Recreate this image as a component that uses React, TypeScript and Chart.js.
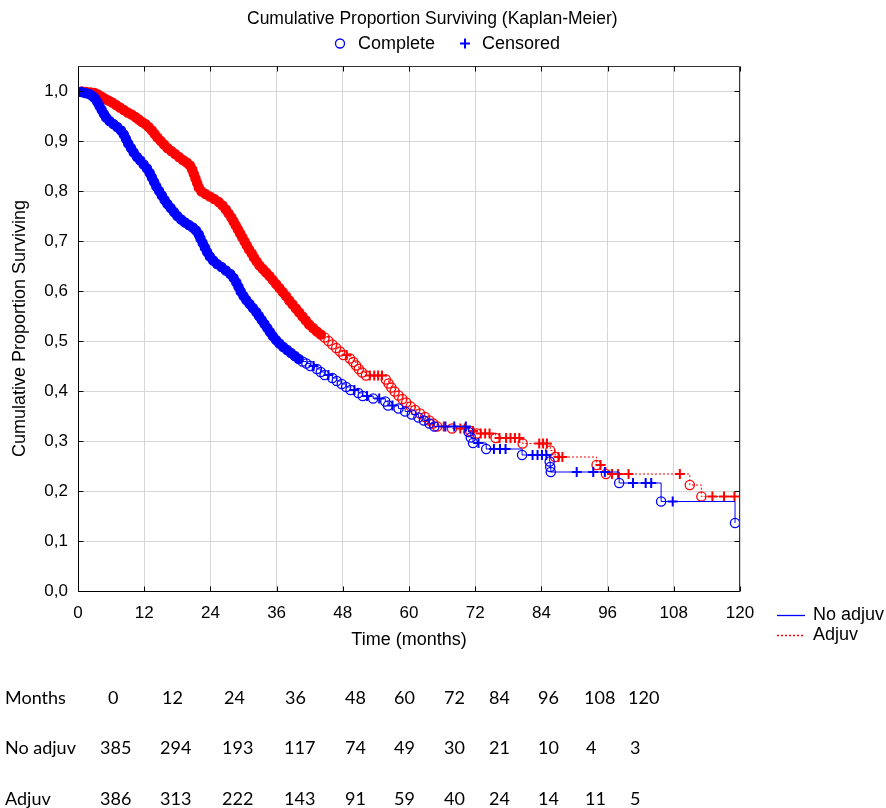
import React, { useEffect, useRef } from 'react';
import { Chart, registerables } from 'chart.js';
Chart.register(...registerables);

// ---------- data ----------
const X_TICKS = [0, 12, 24, 36, 48, 60, 72, 84, 96, 108, 120];
const Y_TICKS = [0, 0.1, 0.2, 0.3, 0.4, 0.5, 0.6, 0.7, 0.8, 0.9, 1.0];
const TITLE = 'Cumulative Proportion Surviving (Kaplan-Meier)';
const X_TITLE = 'Time (months)';
const Y_TITLE = 'Cumulative Proportion Surviving';
const MARKER_NAMES = ['Complete', 'Censored'];
const GROUP_NAMES = ['No adjuv', 'Adjuv'];

// No adjuv: event (complete) times and survival after each event
const NOADJ_EVENT_T = [
  0.6, 1.3, 2.0, 2.6, 3.1, 3.5, 3.9, 4.3, 4.7, 5.1, 5.7, 6.4, 7.1, 7.8, 8.3, 8.7, 9.1, 9.6, 10.1, 10.7,
  11.3, 11.9, 12.5, 13.0, 13.4, 13.8, 14.2, 14.7, 15.2, 15.7, 16.2, 16.8, 17.4, 18.0, 18.7, 19.4, 20.1, 20.8,
  21.4, 21.9, 22.2, 22.6, 23.0, 23.4, 23.9, 24.5, 25.2, 26.0, 26.8, 27.6, 28.2, 28.7, 29.1, 29.5, 30.0, 30.5,
  31.1, 31.7, 32.3, 32.8, 33.3, 33.8, 34.3, 34.8, 35.3, 35.9, 36.5, 37.2, 37.9, 38.6, 39.3, 40.0,
  40.7, 41.4, 42.1, 43.3, 44.0, 44.7, 46.1, 46.9, 47.8, 48.6, 49.4, 50.8, 51.6, 53.5, 55.7, 56.2, 58.1, 59.3,
  60.5, 61.7, 62.7, 63.7, 64.6, 70.8, 71.2, 71.6, 74.0, 80.5, 85.5, 85.6, 85.7, 98.1, 105.7, 119.1,
];
const NOADJ_EVENT_S = [
  0.998, 0.996, 0.994, 0.990, 0.985, 0.978, 0.970, 0.962, 0.954, 0.947, 0.940, 0.934, 0.928, 0.921, 0.913, 0.904, 0.895, 0.886, 0.877, 0.868,
  0.861, 0.853, 0.845, 0.836, 0.827, 0.818, 0.809, 0.800, 0.791, 0.782, 0.774, 0.766, 0.758, 0.750, 0.743, 0.737, 0.732, 0.727,
  0.721, 0.713, 0.705, 0.696, 0.687, 0.678, 0.669, 0.661, 0.654, 0.648, 0.641, 0.634, 0.626, 0.617, 0.608, 0.599, 0.590, 0.582,
  0.574, 0.566, 0.558, 0.550, 0.542, 0.534, 0.526, 0.518, 0.510, 0.502, 0.495, 0.488, 0.482, 0.476, 0.470, 0.464,
  0.459, 0.455, 0.450, 0.444, 0.438, 0.432, 0.426, 0.420, 0.414, 0.408, 0.402, 0.396, 0.390, 0.385, 0.379, 0.371, 0.365, 0.359,
  0.353, 0.347, 0.341, 0.335, 0.329, 0.318, 0.307, 0.296, 0.284, 0.272, 0.259, 0.248, 0.238, 0.216, 0.179, 0.136,
];
const NOADJ_CENSORED_T = [
  42.7, 45.4, 50.1, 52.4, 54.6, 57.0, 66.6, 68.2, 70.3, 72.6, 75.4, 76.5, 77.5, 82.4, 83.3, 84.1, 84.9,
  90.4, 93.4, 95.5, 100.6, 102.9, 103.9, 107.8,
];

// Adjuv
const ADJ_EVENT_T = [
  0.7, 1.5, 2.3, 3.0, 3.6, 4.2, 4.8, 5.5, 6.2, 6.9, 7.6, 8.3, 9.0, 9.7, 10.4, 11.0, 11.6, 12.2, 12.8, 13.4,
  13.9, 14.4, 15.0, 15.6, 16.2, 16.9, 17.6, 18.3, 19.0, 19.7, 20.3, 20.7, 21.0, 21.3, 21.6, 21.9, 22.4, 23.1,
  23.9, 24.7, 25.5, 26.2, 26.8, 27.3, 27.8, 28.2, 28.6, 29.0, 29.4, 29.8, 30.2, 30.6, 31.0, 31.5, 31.9, 32.4,
  32.9, 33.5, 34.1, 34.7, 35.3, 35.9, 36.5, 37.1, 37.7, 38.3, 38.9, 39.5, 40.1, 40.7, 41.3, 41.9, 42.6, 43.3, 44.0,
  44.7, 45.4, 46.1, 46.8, 47.5, 48.1, 49.3, 49.9, 50.4, 50.9, 51.5, 52.2, 55.8, 56.3, 56.8, 57.4, 58.1, 58.8,
  59.5, 60.3, 61.1, 62.0, 62.9, 63.7, 64.4, 65.1, 67.8, 71.1, 72.3, 75.7, 80.6, 85.6, 86.5, 94.0, 95.7, 110.9, 113.0,
];
const ADJ_EVENT_S = [
  0.999, 0.998, 0.997, 0.996, 0.993, 0.989, 0.985, 0.981, 0.977, 0.972, 0.967, 0.962, 0.957, 0.953, 0.948, 0.943, 0.938, 0.934, 0.928, 0.921,
  0.914, 0.907, 0.900, 0.893, 0.886, 0.880, 0.874, 0.868, 0.862, 0.857, 0.851, 0.843, 0.834, 0.825, 0.816, 0.807, 0.799, 0.794,
  0.789, 0.784, 0.778, 0.771, 0.763, 0.755, 0.747, 0.739, 0.731, 0.723, 0.715, 0.707, 0.699, 0.691, 0.683, 0.675, 0.667, 0.659,
  0.651, 0.644, 0.637, 0.630, 0.622, 0.614, 0.606, 0.598, 0.590, 0.581, 0.573, 0.565, 0.557, 0.549, 0.541, 0.533, 0.526, 0.519, 0.513,
  0.507, 0.500, 0.493, 0.486, 0.479, 0.472, 0.465, 0.458, 0.451, 0.444, 0.437, 0.431, 0.423, 0.415, 0.407, 0.399, 0.391, 0.384,
  0.377, 0.369, 0.362, 0.355, 0.348, 0.341, 0.335, 0.329, 0.325, 0.320, 0.315, 0.306, 0.295, 0.281, 0.268, 0.252, 0.234, 0.212, 0.189,
];
const ADJ_CENSORED_T = [
  48.7, 52.9, 53.7, 54.4, 55.1, 66.3, 69.3, 70.1, 71.6, 73.0, 73.8, 74.6, 76.4, 77.6, 78.4, 79.2, 80.0,
  83.6, 84.3, 85.0, 87.1, 87.8, 94.7, 96.8, 97.9, 99.8, 109.1, 115.0, 117.1, 119.0,
];

// Numbers at risk table
const RISK_MONTHS = [0, 12, 24, 36, 48, 60, 72, 84, 96, 108, 120];
const NOADJ_AT_RISK = [385, 294, 193, 117, 74, 49, 30, 21, 10, 4, 3];
const ADJ_AT_RISK = [386, 313, 222, 143, 91, 59, 40, 24, 14, 11, 5];
const RISK_ROW_LABELS = ['Months', 'No adjuv', 'Adjuv'];

// ---------- styles / layout ----------
const W = 886;
const H = 808;
const BLUE = '#0000ff';
const RED = '#ff0000';
const FONT = "'Liberation Sans', Arial, sans-serif";
const BAND_END = [40.2, 44.2]; // events before this are drawn as a dense (filled) band
const ROW_Y = [697, 747, 798];
const ROW_X = [
  [108, 162, 224, 285, 345, 394, 444, 489, 538, 584, 628],
  [100, 160, 222, 284, 345, 394, 444, 489, 538, 586, 630],
  [100, 160, 222, 284, 345, 394, 444, 489, 538, 585, 630],
];

type P = { x: number; y: number; k: number };

function buildSeries(et: number[], es: number[], ct: number[]): P[] {
  const pts: P[] = [{ x: 0, y: 1, k: 0 }];
  et.forEach((t, i) => pts.push({ x: t, y: es[i], k: 1 }));
  ct.forEach((t) => {
    let s = 1;
    et.forEach((e, i) => {
      if (e <= t) s = es[i];
    });
    pts.push({ x: t, y: s, k: 2 });
  });
  pts.sort((a, b) => a.x - b.x || a.k - b.k);
  return pts;
}

const decorPlugin = {
  id: 'decor',
  afterDraw(chart: any) {
    const { ctx, chartArea } = chart;
    const { left, right, top, bottom } = chartArea;
    const xs = chart.scales.x;
    const ys = chart.scales.y;
    ctx.save();
    const L = Math.round(left) + 0.5;
    const R = Math.round(right) - 0.5;
    const T = Math.round(top) + 0.5;
    const B = Math.round(bottom) + 0.5;
    ctx.lineWidth = 1;
    ctx.strokeStyle = '#000';
    ctx.beginPath();
    ctx.moveTo(L, T);
    ctx.lineTo(L, B);
    ctx.lineTo(R, B);
    ctx.stroke();
    ctx.strokeStyle = '#333';
    ctx.beginPath();
    ctx.moveTo(L, T);
    ctx.lineTo(R, T);
    ctx.lineTo(R, B);
    ctx.stroke();
    // inward tick marks
    ctx.strokeStyle = '#000';
    ctx.beginPath();
    X_TICKS.forEach((v) => {
      const px = Math.round(xs.getPixelForValue(v)) + 0.5;
      ctx.moveTo(px, B);
      ctx.lineTo(px, B - 5);
      ctx.moveTo(px, T);
      ctx.lineTo(px, T + 5);
    });
    Y_TICKS.forEach((v) => {
      const py = Math.round(ys.getPixelForValue(v)) + 0.5;
      ctx.moveTo(L, py);
      ctx.lineTo(L + 5, py);
      ctx.moveTo(R, py);
      ctx.lineTo(R - 5, py);
    });
    ctx.stroke();

    // title
    ctx.fillStyle = '#000';
    ctx.textBaseline = 'middle';
    ctx.textAlign = 'left';
    ctx.font = `17.5px ${FONT}`;
    ctx.fillText(TITLE, 247, 19);

    // marker legend
    ctx.font = `18px ${FONT}`;
    ctx.strokeStyle = BLUE;
    ctx.lineWidth = 1.3;
    ctx.beginPath();
    ctx.arc(340, 43.5, 4.5, 0, Math.PI * 2);
    ctx.stroke();
    ctx.fillText(MARKER_NAMES[0], 358, 44);
    ctx.lineWidth = 2;
    ctx.beginPath();
    ctx.moveTo(460, 43.5);
    ctx.lineTo(470, 43.5);
    ctx.moveTo(465, 38.5);
    ctx.lineTo(465, 48.5);
    ctx.stroke();
    ctx.fillText(MARKER_NAMES[1], 482, 44);

    // group legend
    ctx.lineWidth = 1.3;
    ctx.strokeStyle = BLUE;
    ctx.beginPath();
    ctx.moveTo(777, 615.5);
    ctx.lineTo(805, 615.5);
    ctx.stroke();
    ctx.strokeStyle = RED;
    ctx.setLineDash([2, 2]);
    ctx.beginPath();
    ctx.moveTo(777, 635.5);
    ctx.lineTo(805, 635.5);
    ctx.stroke();
    ctx.setLineDash([]);
    ctx.fillText(GROUP_NAMES[0], 813, 615);
    ctx.fillText(GROUP_NAMES[1], 813, 635);
    ctx.restore();
  },
};

function makeDataset(label: string, pts: P[], color: string, bandEnd: number, dash: number[]) {
  return {
    label,
    data: pts,
    borderColor: color,
    borderWidth: 1,
    borderDash: dash,
    stepped: 'before' as const,
    tension: 0,
    fill: false,
    pointRadius: (c: any) => (pts[c.dataIndex].k === 0 ? 0 : pts[c.dataIndex].k === 2 ? 5 : 4.6),
    pointStyle: (c: any) => (pts[c.dataIndex].k === 2 ? 'cross' : 'circle'),
    pointBorderColor: color,
    pointBorderWidth: (c: any) => (pts[c.dataIndex].k === 2 ? 2 : 1.3),
    pointBackgroundColor: (c: any) => {
      const p = pts[c.dataIndex];
      return p.k === 1 && p.x <= bandEnd ? color : 'rgba(255,255,255,0)';
    },
  };
}

export default function App() {
  const ref = useRef<HTMLCanvasElement | null>(null);
  useEffect(() => {
    if (!ref.current) return;
    const blue = buildSeries(NOADJ_EVENT_T, NOADJ_EVENT_S, NOADJ_CENSORED_T);
    const red = buildSeries(ADJ_EVENT_T, ADJ_EVENT_S, ADJ_CENSORED_T);
    const tickFont = { family: FONT, size: 17 };
    const titleFont = { family: FONT, size: 18 };
    const chart = new Chart(ref.current, {
      type: 'line',
      data: {
        datasets: [
          makeDataset(GROUP_NAMES[0], blue, BLUE, BAND_END[0], []),
          makeDataset(GROUP_NAMES[1], red, RED, BAND_END[1], [2, 2]),
        ] as any,
      },
      options: {
        animation: false,
        responsive: false,
        maintainAspectRatio: false,
        layout: { padding: { left: 9, top: 66, right: 146, bottom: 157 } },
        plugins: {
          legend: { display: false },
          title: { display: false },
          tooltip: { enabled: false },
        },
        scales: {
          x: {
            type: 'linear',
            min: 0,
            max: 120,
            afterBuildTicks: (s: any) => {
              s.ticks = X_TICKS.map((v) => ({ value: v }));
            },
            afterFit: (s: any) => {
              s.height = 60;
            },
            ticks: { font: tickFont, color: '#000', padding: 12, maxRotation: 0, autoSkip: false },
            grid: { color: '#d6d6d6', lineWidth: 1, drawTicks: false },
            border: { display: false },
            title: { display: true, text: X_TITLE, font: titleFont, color: '#000', padding: 0 },
          },
          y: {
            type: 'linear',
            min: 0,
            max: 1.05,
            afterBuildTicks: (s: any) => {
              s.ticks = Y_TICKS.map((v) => ({ value: v }));
            },
            afterFit: (s: any) => {
              s.width = 69;
            },
            ticks: {
              font: tickFont,
              color: '#000',
              padding: 10,
              autoSkip: false,
              callback: (v: any) => Number(v).toFixed(1).replace('.', ','),
            },
            grid: { color: '#d6d6d6', lineWidth: 1, drawTicks: false },
            border: { display: false },
            title: { display: true, text: Y_TITLE, font: titleFont, color: '#000', padding: 0 },
          },
        },
      },
      plugins: [decorPlugin],
    });
    return () => chart.destroy();
  }, []);

  const rows = [RISK_MONTHS, NOADJ_AT_RISK, ADJ_AT_RISK];
  const cell: React.CSSProperties = {
    position: 'absolute',
    transform: 'translateY(-50%)',
    fontFamily: "Lato, 'Open Sans', sans-serif",
    fontSize: 18,
    lineHeight: 1,
    color: '#000',
    whiteSpace: 'nowrap',
  };
  return (
    <div style={{ position: 'absolute', left: 0, top: 0, width: W, height: H, overflow: 'hidden', background: '#fff' }}>
      <canvas ref={ref} width={W} height={H} style={{ position: 'absolute', left: 0, top: 0, width: W, height: H }} />
      {rows.map((vals, r) => (
        <React.Fragment key={r}>
          <span style={{ ...cell, left: 5, top: ROW_Y[r] }}>{RISK_ROW_LABELS[r]}</span>
          {vals.map((v, i) => (
            <span key={i} style={{ ...cell, left: ROW_X[r][i], top: ROW_Y[r] }}>
              {v}
            </span>
          ))}
        </React.Fragment>
      ))}
    </div>
  );
}
